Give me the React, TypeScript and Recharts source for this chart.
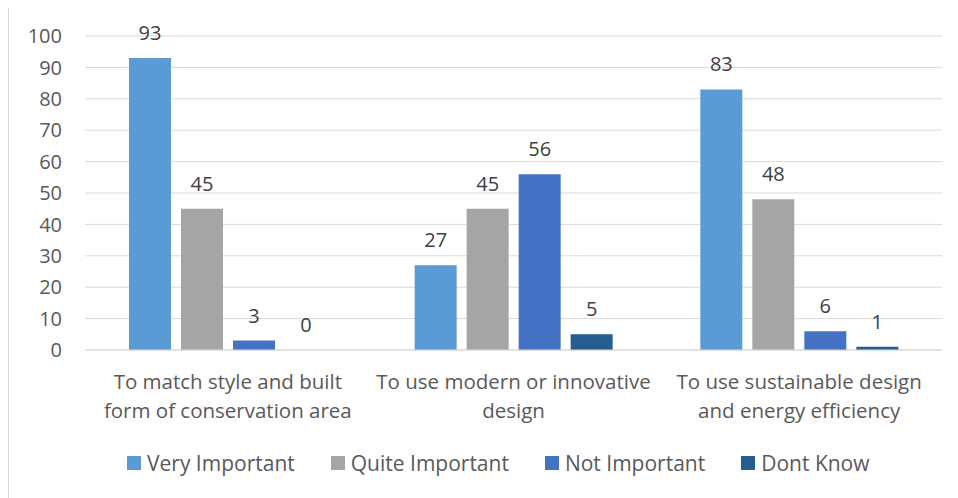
import { BarChart, Bar, XAxis, YAxis, CartesianGrid, LabelList } from "recharts";

const categories = [
  "To match style and built\nform of conservation area",
  "To use modern or innovative\ndesign",
  "To use sustainable design\nand energy efficiency",
];

const veryImportant = [93, 27, 83];
const quiteImportant = [45, 45, 48];
const notImportant = [3, 56, 6];
const dontKnow = [0, 5, 1];

const yTicks = [0, 10, 20, 30, 40, 50, 60, 70, 80, 90, 100];

const series = [
  { key: "very", name: "Very Important", color: "#5B9BD5" },
  { key: "quite", name: "Quite Important", color: "#A5A5A5" },
  { key: "not", name: "Not Important", color: "#4472C4" },
  { key: "dk", name: "Dont Know", color: "#255E91" },
];

const data = categories.map((c, i) => ({
  cat: c,
  very: veryImportant[i],
  quite: quiteImportant[i],
  not: notImportant[i],
  dk: dontKnow[i],
}));

const FONT = "'Open Sans', sans-serif";

function CatTick(props: any) {
  const { x, y, payload } = props;
  const lines = String(payload.value).split("\n");
  return (
    <g>
      {lines.map((l, i) => (
        <text key={i} x={x} y={y + 31 + i * 29} textAnchor="middle" fill="#595959" fontSize={20.5} fontFamily={FONT}>
          {l}
        </text>
      ))}
    </g>
  );
}

// label drawn even when the bar has zero height
function TopLabel(props: any) {
  const { x, y, width, value } = props;
  return (
    <text x={x + width / 2} y={y - 18} textAnchor="middle" fill="#404040" fontSize={20} fontFamily={FONT}>
      {value}
    </text>
  );
}

export default function App() {
  return (
    <div style={{ position: "relative", width: 950, height: 490 }}>
      <div style={{ position: "absolute", left: 0, top: -2, width: 960, height: 500, borderLeft: "1px solid #d9d9d9", borderTop: "1px solid #d9d9d9" }} />
      <BarChart
        width={950}
        height={490}
        data={data}
        margin={{ top: 28, right: 16, bottom: 0, left: 0 }}
        barCategoryGap="15.4%"
        barGap={10}
      >
        <CartesianGrid vertical={false} stroke="#D9D9D9" />
        <XAxis dataKey="cat" tick={<CatTick />} tickLine={false} axisLine={{ stroke: "#D9D9D9" }} height={148} interval={0} />
        <YAxis
          domain={[0, 100]}
          ticks={yTicks}
          axisLine={false}
          tickLine={false}
          tickSize={0}
          tickMargin={23}
          width={77}
          tick={{ fill: "#595959", fontSize: 20, fontFamily: FONT }}
        />
        {series.map((s) => (
          <Bar key={s.key} dataKey={s.key} name={s.name} fill={s.color} minPointSize={0.01} isAnimationActive={false}>
            <LabelList dataKey={s.key} content={<TopLabel />} />
          </Bar>
        ))}
      </BarChart>
      <div
        style={{
          position: "absolute",
          left: 119,
          top: 443,
          display: "flex",
          gap: 36,
          fontFamily: FONT,
          fontSize: 21,
          color: "#595959",
          lineHeight: "24px",
          whiteSpace: "nowrap",
        }}
      >
        {series.map((s) => (
          <div key={s.key} style={{ display: "flex", alignItems: "center" }}>
            <span style={{ width: 14, height: 14, background: s.color, display: "inline-block", marginRight: 6 }} />
            {s.name}
          </div>
        ))}
      </div>
    </div>
  );
}
